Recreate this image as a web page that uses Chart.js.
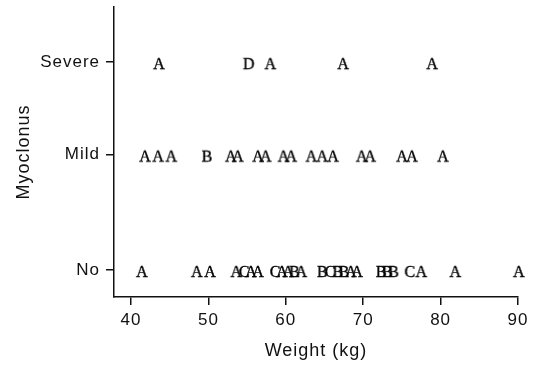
<!DOCTYPE html>
<html>
<head>
<meta charset="utf-8">
<script src="https://cdn.jsdelivr.net/npm/chart.js@4/dist/chart.umd.min.js"></script>
<style>
  html, body { margin: 0; padding: 0; background: #fff; }
  #chart { display: block; }
</style>
</head>
<body>
<canvas id="chart" width="539" height="368"></canvas>
<script>
// severity rows: label and position on the y scale
const levelLabels = ['No', 'Mild', 'Severe'];
const levelValues = [0, 1.11, 2];

// x ticks
const weightTicks = [40, 50, 60, 70, 80, 90];

// weights (kg) and group letters per row
const noWeights = [41.4, 48.5, 50.2, 53.6, 54.6, 55.5, 56.4, 58.6, 59.5, 60.3, 61.1, 62.0,
    64.7, 65.7, 66.7, 67.5, 68.4, 69.2, 72.3, 73.1, 73.9, 76.0, 77.5, 81.9, 90.1];
const noGroups = ['A', 'A', 'A', 'A', 'C', 'A', 'A', 'C', 'A', 'A', 'B', 'A',
    'B', 'C', 'B', 'B', 'A', 'A', 'B', 'B', 'B', 'C', 'A', 'A', 'A'];

const mildWeights = [41.8, 43.5, 45.2, 49.8, 52.9, 53.8, 56.4, 57.4, 59.7, 60.7,
    63.3, 64.7, 66.1, 69.8, 70.9, 75.0, 76.3, 80.3];
const mildGroups = ['A', 'A', 'A', 'B', 'A', 'A', 'A', 'A', 'A', 'A',
    'A', 'A', 'A', 'A', 'A', 'A', 'A', 'A'];

const severeWeights = [43.6, 55.2, 58.0, 67.4, 78.9];
const severeGroups = ['A', 'D', 'A', 'A', 'A'];

// letter glyphs used as point styles
const glyphCache = {};
function glyph(letter) {
    if (glyphCache[letter]) return glyphCache[letter];
    const c = document.createElement('canvas');
    c.width = 18;
    c.height = 26;
    const g = c.getContext('2d');
    g.fillStyle = '#000';
    g.strokeStyle = '#000';
    g.lineWidth = 0.4;
    g.font = '16px "Liberation Serif", "DejaVu Serif", serif';
    g.textAlign = 'center';
    g.textBaseline = 'middle';
    g.fillText(letter, 9, 16);
    g.strokeText(letter, 9, 16);
    glyphCache[letter] = c;
    return c;
}

function rowDataset(weights, groups, level) {
    return {
        data: weights.map(w => ({ x: w, y: levelValues[level] })),
        pointStyle: groups.map(glyph),
        pointRadius: 6,
        clip: false,
    };
}

const axisFont = { family: '"Liberation Sans", Arial, sans-serif', size: 17 };
const titleFont = { family: '"Liberation Sans", Arial, sans-serif', size: 18 };

const spacingPlugin = {
    id: 'spacing',
    beforeDraw(chart) {
        chart.ctx.letterSpacing = '1px';
    },
};

new Chart(document.getElementById('chart'), {
    type: 'scatter',
    data: {
        datasets: [
            rowDataset(noWeights, noGroups, 0),
            rowDataset(mildWeights, mildGroups, 1),
            rowDataset(severeWeights, severeGroups, 2),
        ],
    },
    options: {
        responsive: false,
        animation: false,
        devicePixelRatio: 1,
        layout: { padding: { top: 4, right: 21, bottom: 0, left: 0 } },
        plugins: {
            legend: { display: false },
            tooltip: { enabled: false },
        },
        scales: {
            x: {
                type: 'linear',
                min: 37.8,
                max: 90,
                afterBuildTicks(scale) {
                    scale.ticks = weightTicks.map(v => ({ value: v }));
                },
                afterFit(scale) {
                    scale.height = 71;
                    scale.paddingLeft = 0;
                    scale.paddingRight = 0;
                },
                grid: {
                    drawOnChartArea: false,
                    drawTicks: true,
                    tickLength: 8,
                    color: '#111',
                    lineWidth: 1.5,
                },
                border: { display: true, color: '#111', width: 1.5 },
                ticks: { color: '#111', font: axisFont, padding: 5, maxRotation: 0 },
                title: {
                    display: true,
                    text: 'Weight (kg)',
                    color: '#111',
                    font: titleFont,
                    padding: { top: 0, bottom: 6 },
                },
            },
            y: {
                type: 'linear',
                min: -0.26,
                max: 2.53,
                afterBuildTicks(scale) {
                    scale.ticks = levelValues.map(v => ({ value: v }));
                },
                afterFit(scale) {
                    scale.width = 114;
                    scale.paddingTop = 0;
                    scale.paddingBottom = 0;
                },
                grid: {
                    drawOnChartArea: false,
                    drawTicks: true,
                    tickLength: 8,
                    color: '#111',
                    lineWidth: 1.5,
                },
                border: { display: true, color: '#111', width: 1.5 },
                ticks: {
                    color: '#111',
                    font: axisFont,
                    padding: 6,
                    callback(value) {
                        const i = levelValues.indexOf(value);
                        return i >= 0 ? levelLabels[i] : '';
                    },
                },
                title: {
                    display: true,
                    text: 'Myoclonus',
                    color: '#111',
                    font: titleFont,
                    padding: { top: 13, bottom: 0 },
                },
            },
        },
    },
    plugins: [spacingPlugin],
});
</script>
</body>
</html>
